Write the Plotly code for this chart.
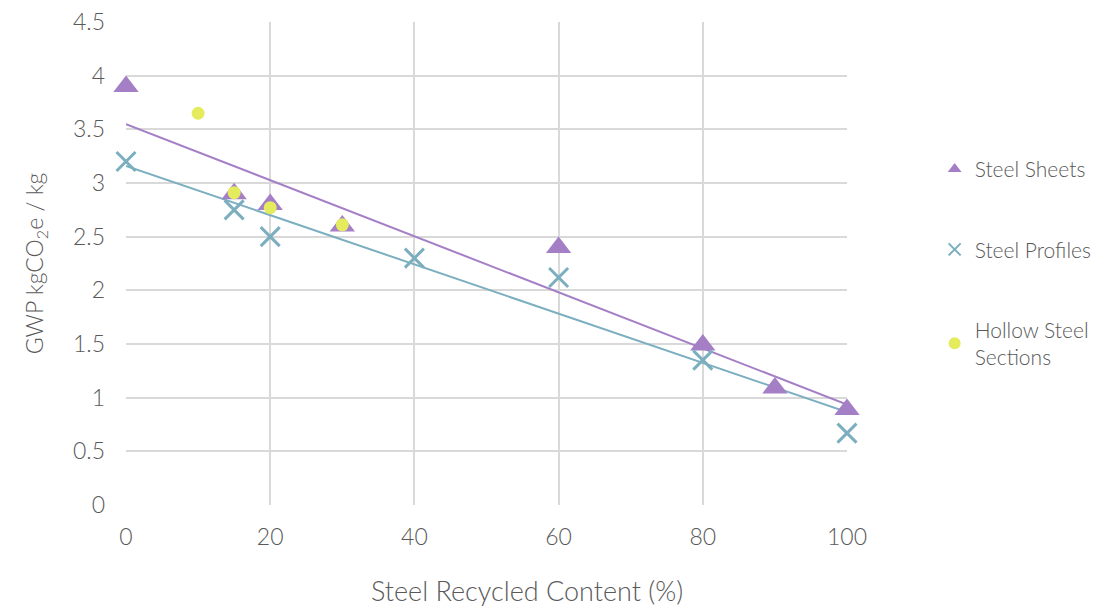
import numpy as np
import plotly.graph_objects as go

# Data
sheets_x = [0, 15, 20, 30, 60, 80, 90, 100]
sheets_y = [3.9, 2.9, 2.8, 2.6, 2.4, 1.49, 1.09, 0.89]
profiles_x = [0, 15, 20, 40, 60, 80, 100]
profiles_y = [3.2, 2.75, 2.5, 2.3, 2.12, 1.35, 0.67]
hollow_x = [10, 15, 20, 30]
hollow_y = [3.65, 2.91, 2.77, 2.61]

PURPLE = "#A57FC6"
TEAL = "#7BAFBF"
YELLOW = "#E4EB5C"
GRID = "#D9D9D9"
TEXT = "#595959"
FONT = "Lato"

fig = go.Figure()

# Linear trendlines
xr = np.array([0, 100])
for xs, ys, col in [(sheets_x, sheets_y, PURPLE), (profiles_x, profiles_y, TEAL)]:
    m, b = np.polyfit(xs, ys, 1)
    fig.add_trace(go.Scatter(x=xr, y=m * xr + b, mode="lines",
                             line=dict(color=col, width=2), cliponaxis=False,
                             showlegend=False, hoverinfo="skip"))

fig.add_trace(go.Scatter(x=sheets_x, y=sheets_y, mode="markers", name="Steel Sheets",
                         legendgroup="a", cliponaxis=False,
                         marker=dict(symbol="triangle-up", size=22, color=PURPLE)))
fig.add_trace(go.Scatter(x=profiles_x, y=profiles_y, mode="markers", name="Steel Profiles",
                         legendgroup="b", cliponaxis=False,
                         marker=dict(symbol="x-thin", size=19, color=TEAL,
                                     line=dict(color=TEAL, width=3))))
fig.add_trace(go.Scatter(x=hollow_x, y=hollow_y, mode="markers",
                         name="Hollow Steel<br>Sections", legendgroup="c", cliponaxis=False,
                         marker=dict(symbol="circle", size=13, color=YELLOW)))

fig.update_layout(
    width=1097, height=608,
    margin=dict(l=126, r=250, t=22, b=103),
    paper_bgcolor="white", plot_bgcolor="white",
    font=dict(family=FONT, color=TEXT, size=21, weight=300),
    legend=dict(xref="container", yref="container", x=0.852, y=0.755,
                xanchor="left", yanchor="top",
                font=dict(size=21, color=TEXT, family=FONT, weight=300),
                tracegroupgap=50, itemsizing="constant", itemwidth=30),
    xaxis=dict(range=[0, 100], dtick=20, showgrid=True, gridcolor=GRID, gridwidth=2,
               zeroline=False, showline=False, ticks="", ticklabelstandoff=16,
               automargin=False,
               tickfont=dict(size=23, color=TEXT, family=FONT, weight=300)),
    yaxis=dict(range=[0, 4.5], dtick=0.5, showgrid=True, gridcolor=GRID, gridwidth=2,
               zeroline=False, showline=False, ticks="", ticklabelstandoff=20,
               automargin=False,
               tickfont=dict(size=23, color=TEXT, family=FONT, weight=300),
               title=dict(text="GWP kgCO<sub>2</sub>e / kg", standoff=22,
                          font=dict(size=23, color=TEXT, family=FONT, weight=300))),
    annotations=[dict(text="Steel Recycled Content (%)", xref="paper", yref="paper",
                      x=0.556, y=-0.176, xanchor="center", yanchor="middle",
                      showarrow=False,
                      font=dict(size=27, color=TEXT, family=FONT, weight=300))],
)

fig.write_html("out.html", config={"displayModeBar": False},
               post_script="document.body.style.margin='0';document.body.style.padding='0';")
